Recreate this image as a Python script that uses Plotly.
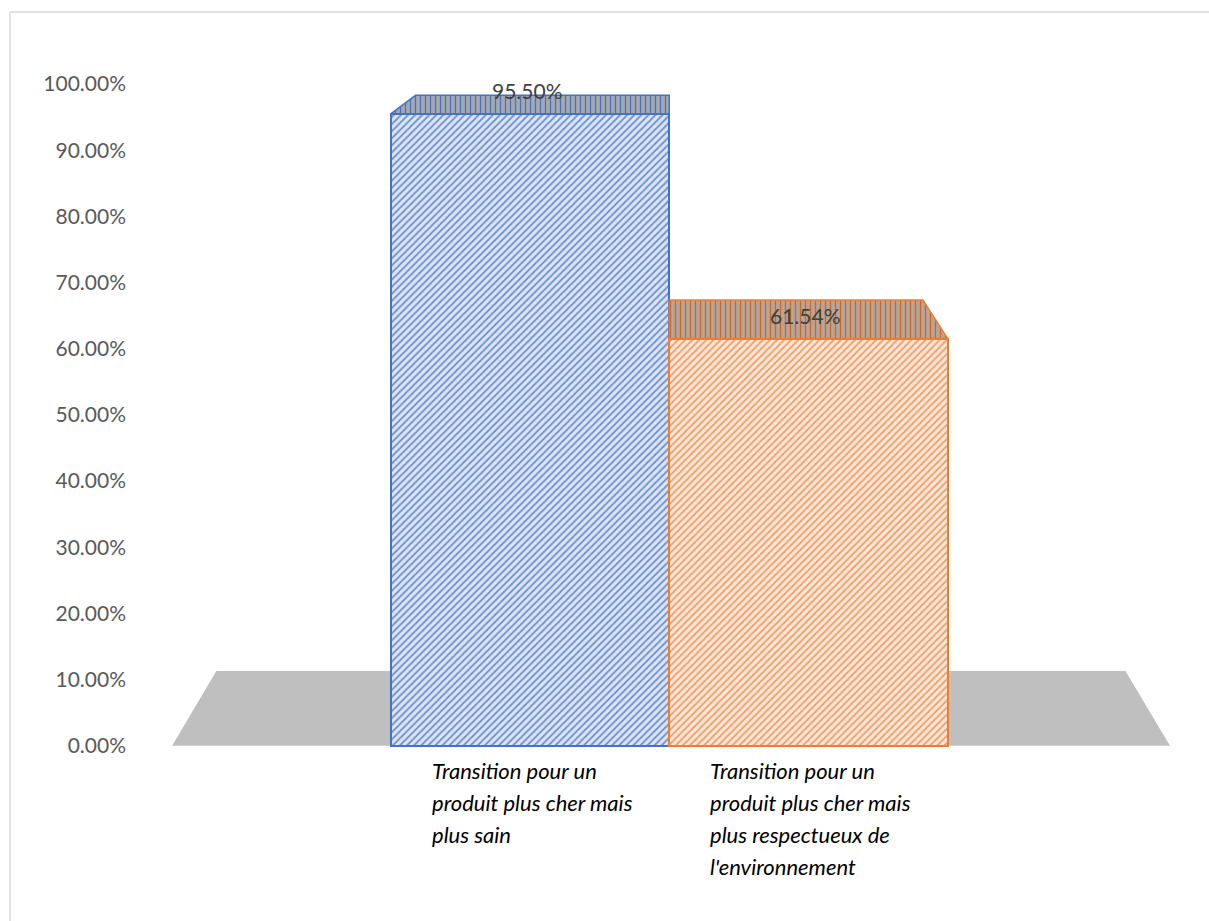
import plotly.graph_objects as go

# ---------------- data ----------------
categories = [
    "Transition pour un produit plus cher mais plus sain",
    "Transition pour un produit plus cher mais plus respectueux de l'environnement",
]
category_lines = [
    ["Transition pour un", "produit plus cher mais", "plus sain"],
    ["Transition pour un", "produit plus cher mais", "plus respectueux de", "l'environnement"],
]
values = [0.9550, 0.6154]
y_ticks = [0.0, 0.1, 0.2, 0.3, 0.4, 0.5, 0.6, 0.7, 0.8, 0.9, 1.0]

# ---------------- style / geometry ----------------
W, H = 1209, 921
EDGE_COLORS = ["#4472C4", "#ED7D31"]
HATCH_COLORS = ["#7393D2", "#F1A06C"]
FRONT_BG = ["#DDE6F6", "#FDE8DA"]
TOP_FG = ["#4F6FB0", "#C8682A"]
TOP_BG = ["#A3A9B4", "#B7A597"]
FLOOR_COLOR = "#BFBFBF"

# pixel layout of the plotting area
PX_PER_CAT = 278.5        # px per category unit
X0_PX = 530.0             # px position of category 0
PX_PER_UNIT_Y = 662.0     # px per 100 %
Y0_PX = 746.0             # px position of 0 %
PLOT_L, PLOT_R = 168.0, 1175.0
Y_LO, Y_HI = -0.02, 1.05

x_range = [(PLOT_L - X0_PX) / PX_PER_CAT, (PLOT_R - X0_PX) / PX_PER_CAT]
plot_top = Y0_PX - Y_HI * PX_PER_UNIT_Y
plot_bot = Y0_PX - Y_LO * PX_PER_UNIT_Y
m_t = plot_top
m_b = H - plot_bot
m_l = PLOT_L
m_r = W - PLOT_R

# simple perspective for the 3-D depth
VANISH_X, VANISH_Y, DEPTH = 0.5, 1.269, 0.089
FLOOR_X = (-1.285, 2.298)


def back(x, y):
    return x + DEPTH * (VANISH_X - x), y + DEPTH * (VANISH_Y - y)


fig = go.Figure()

# front faces
for i, (cat, v) in enumerate(zip(categories, values)):
    fig.add_trace(go.Bar(
        x=[i], y=[v], width=1.0, name=cat, showlegend=False,
        marker=dict(
            color=FRONT_BG[i],
            line=dict(color=EDGE_COLORS[i], width=2),
            pattern=dict(shape="/", fgcolor=HATCH_COLORS[i], bgcolor=FRONT_BG[i],
                         size=5, solidity=0.4, fillmode="replace"),
        ),
        hoverinfo="skip",
    ))

# top faces
for i, v in enumerate(values):
    xl, xr = i - 0.5, i + 0.5
    bxl, byl = back(xl, v)
    bxr, byr = back(xr, v)
    fig.add_trace(go.Scatter(
        x=[xl, xr, bxr, bxl, xl], y=[v, v, byr, byl, v],
        mode="lines", fill="toself",
        fillcolor=TOP_BG[i],
        fillpattern=dict(shape="|", fgcolor=TOP_FG[i], bgcolor=TOP_BG[i],
                         size=5, solidity=0.25, fillmode="replace"),
        line=dict(color=EDGE_COLORS[i], width=1.5),
        showlegend=False, hoverinfo="skip",
    ))

# floor
fx0, fx1 = FLOOR_X
bx0, by0 = back(fx0, 0.0)
bx1, by1 = back(fx1, 0.0)
shapes = [dict(
    type="path", xref="x", yref="y", layer="below",
    path=f"M {fx0},0 L {fx1},0 L {bx1},{by1} L {bx0},{by0} Z",
    fillcolor=FLOOR_COLOR, line=dict(width=0),
)]

# chart border (top and left visible)
pw = PLOT_R - PLOT_L
ph = plot_bot - plot_top


def px_to_paper_x(px):
    return (px - PLOT_L) / pw


def px_to_paper_y(py):
    return (plot_bot - py) / ph


shapes.append(dict(type="line", xref="paper", yref="paper",
                   x0=px_to_paper_x(10), x1=px_to_paper_x(W + 5),
                   y0=px_to_paper_y(12), y1=px_to_paper_y(12),
                   line=dict(color="#D9D9D9", width=1.5)))
shapes.append(dict(type="line", xref="paper", yref="paper",
                   x0=px_to_paper_x(10), x1=px_to_paper_x(10),
                   y0=px_to_paper_y(12), y1=px_to_paper_y(H + 5),
                   line=dict(color="#D9D9D9", width=1.5)))

annotations = []
# data labels
for i, v in enumerate(values):
    annotations.append(dict(
        x=i, y=v, xref="x", yref="y", text=f"{v*100:.2f}%",
        showarrow=False, xanchor="center", yanchor="bottom", yshift=9,
        xshift=-3,
        font=dict(family="Lato", size=21, color="#404040"),
    ))

# category labels
for i, lines in enumerate(category_lines):
    for j, line in enumerate(lines):
        annotations.append(dict(
            x=i - 0.5 + 0.14, y=0, xref="x", yref="y", text=line,
            showarrow=False, xanchor="left", yanchor="middle",
            yshift=-(25 + 32 * j),
            font=dict(family="Lato", size=22, color="#000000", style="italic"),
        ))

fig.update_layout(
    width=W, height=H,
    template="none",
    paper_bgcolor="white", plot_bgcolor="rgba(0,0,0,0)",
    margin=dict(l=m_l, r=m_r, t=m_t, b=m_b, autoexpand=False),
    barmode="overlay", bargap=0,
    showlegend=False,
    xaxis=dict(range=x_range, showgrid=False, zeroline=False, showline=False,
               showticklabels=False, ticks="", automargin=False),
    yaxis=dict(range=[Y_LO, Y_HI], showgrid=False, zeroline=False, showline=False,
               tickvals=y_ticks, tickformat=".2%", ticks="",
               ticklabelstandoff=41, automargin=False,
               tickfont=dict(family="Lato", size=21, color="#595959")),
    shapes=shapes,
    annotations=annotations,
)

fig.write_html("out.html")
